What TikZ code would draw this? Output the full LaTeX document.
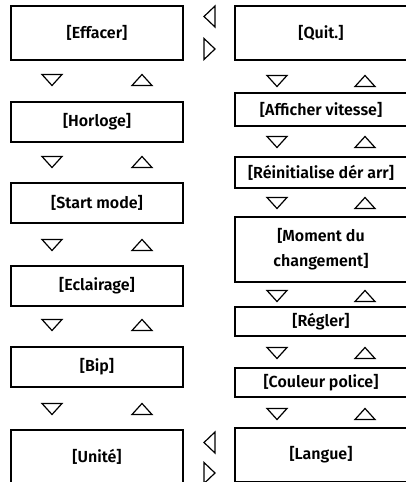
\documentclass[tikz,border=0pt]{standalone}
\usepackage{fontspec}
\setmainfont{Fira Sans}[BoldFont={* SemiBold}]
\usetikzlibrary{positioning}

\tikzset{
  menubox/.style={draw, line width=1.2pt, minimum width=172pt, inner sep=0pt,
    align=center, font=\fontsize{16}{25}\selectfont\bfseries},
  tri/.style={draw, line width=1.2pt, line join=miter}
}

% small triangles: down, up, left, right
\newcommand{\tridown}[2]{\draw[tri] (#1-10,#2-5.5) -- (#1+10,#2-5.5) -- (#1,#2+5.5) -- cycle;}
\newcommand{\triup}[2]{\draw[tri] (#1-10,#2+5.5) -- (#1+10,#2+5.5) -- (#1,#2-5.5) -- cycle;}
\newcommand{\trileft}[2]{\draw[tri] (#1+5.5,#2-10.5) -- (#1+5.5,#2+10.5) -- (#1-5.5,#2) -- cycle;}
\newcommand{\triright}[2]{\draw[tri] (#1-5.5,#2-10.5) -- (#1-5.5,#2+10.5) -- (#1+5.5,#2) -- cycle;}

\begin{document}
\begin{tikzpicture}[x=1pt, y=-1pt]
    \useasboundingbox (0,0) rectangle (406,482);
    \clip (0,0) rectangle (406,482);

    % left column
    \node[menubox, minimum height=54pt] (effacer) at (97,33) {[Effacer]};
    \node[menubox, minimum height=40pt] (horloge) at (97,122) {[Horloge]};
    \node[menubox, minimum height=40pt] (start) at (97,203) {[Start mode]};
    \node[menubox, minimum height=40pt] (eclairage) at (97,286) {[Eclairage]};
    \node[menubox, minimum height=40pt] (bip) at (97,367) {[Bip]};
    \node[menubox, minimum height=54pt] (unite) at (97,457) {[Unité]};

    % right column
    \node[menubox, minimum height=54pt] (quit) at (321,33) {[Quit.]};
    \node[menubox, minimum height=33pt] (afficher) at (321,109.5) {[Afficher vitesse]};
    \node[menubox, minimum height=31pt] (reinit) at (321,172.5) {[Réinitialise dér arr]};
    \node[menubox, minimum height=65pt] (moment) at (321,249.5) {[Moment du\\changement]};
    \node[menubox, minimum height=29pt] (regler) at (321,321.5) {[Régler]};
    \node[menubox, minimum height=29pt] (couleur) at (321,382.5) {[Couleur police]};
    \node[menubox, minimum height=54pt] (langue) at (321,455) {[Langue]};

    % up/down keys
    \foreach \y in {80,162,245,325,409} {
        \tridown{52}{\y}
        \triup{142}{\y}
    }
    \foreach \y in {81,142,203,296,353,414} {
        \tridown{277}{\y}
        \triup{365}{\y}
    }

    % left/right keys
    \trileft{209.5}{16.5}
    \triright{209.5}{49}
    \trileft{209.5}{442.5}
    \triright{209.5}{473}
\end{tikzpicture}
\end{document}
